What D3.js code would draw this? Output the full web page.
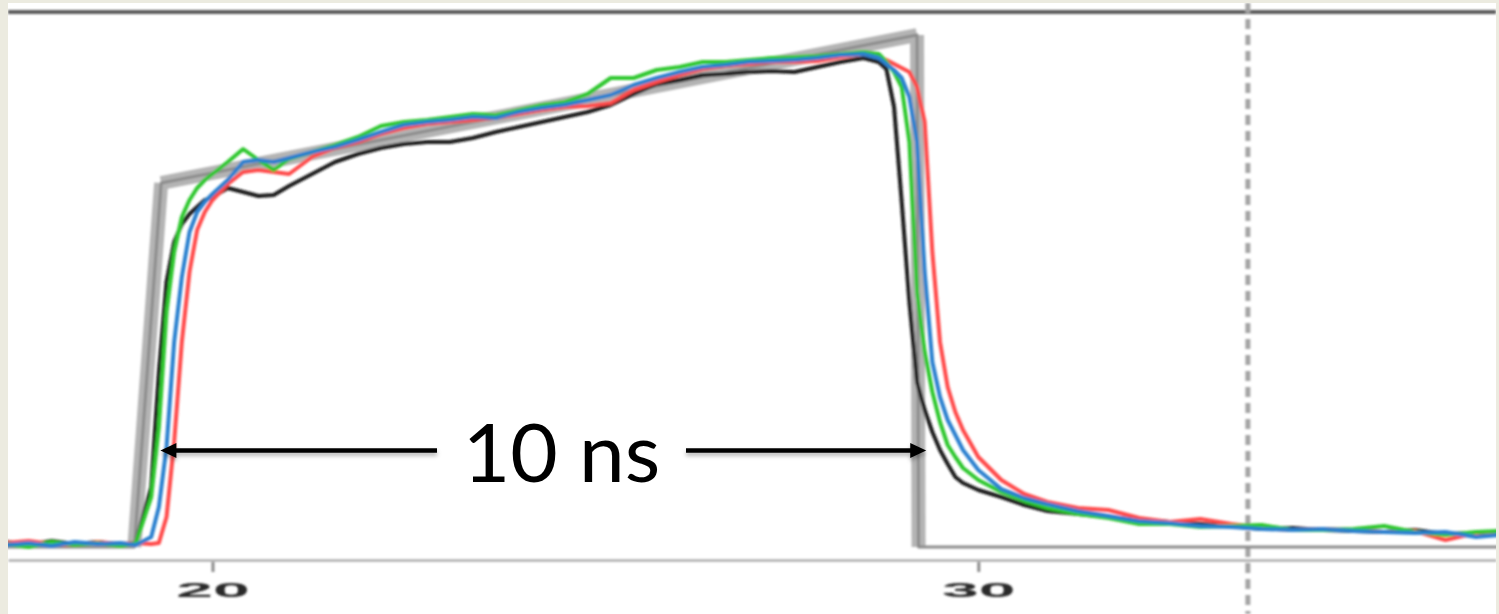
<!DOCTYPE html>
<html>
<head>
<meta charset="utf-8">
<script src="https://cdn.jsdelivr.net/npm/d3@7"></script>
<style>
  html, body { margin: 0; padding: 0; background: #ecebe0; overflow: hidden; }
  svg { display: block; }
</style>
</head>
<body>
<svg id="chart" width="1499" height="614"></svg>
<script>
// ---- sample times (ns), shared by the four measured traces ----
const timeNs = [
  17.3, 17.6, 17.9, 18.2, 18.5, 18.8, 19.0, 19.2,
  19.3, 19.4, 19.5, 19.6, 19.7, 19.8, 19.9, 20.0, 20.2, 20.4, 20.6, 20.8,
  21.0, 21.3, 21.6, 21.9, 22.2, 22.5, 22.8, 23.1, 23.4, 23.7, 24.0, 24.3, 24.6,
  24.9, 25.2, 25.5, 25.8, 26.1, 26.4, 26.7, 27.0, 27.3, 27.6, 27.9, 28.2, 28.5,
  28.7, 28.8, 28.9, 29.0, 29.1, 29.2, 29.3, 29.4, 29.5, 29.6, 29.7, 29.8,
  30.0, 30.3, 30.6, 30.9,
  31.3, 31.7, 32.1, 32.5, 32.9, 33.3, 33.7, 34.1, 34.5, 34.9, 35.3, 35.7,
  36.1, 36.5, 36.8
];

// ---- measured amplitudes (mV) ----
const blackMv = [
  5, 2, 6, 3, 5, 2, 4, 60,
  175, 265, 305, 323, 333, 340, 347, 350, 359, 355, 351, 352,
  361, 373, 385, 393, 399, 403, 405, 405, 409, 415, 420, 425, 430,
  435, 442, 453, 463, 467, 472, 473, 475, 476, 475, 480, 485, 489,
  485, 478, 440, 345, 245, 165, 137, 115, 97, 83, 70, 64,
  57, 50, 42, 36,
  33, 30, 27, 25, 23, 21, 18, 19, 17, 16, 15, 17, 13, 14, 15
];
const greenMv = [
  3, 0, 5, 2, 4, 1, 4, 50,
  120, 235, 295, 330, 347, 359, 367, 373, 385, 398, 387, 377,
  388, 395, 402, 410, 421, 425, 427, 430, 433, 432, 437, 442, 445,
  453, 469, 469, 477, 480, 485, 485, 487, 489, 490, 491, 493, 495,
  493, 485, 475, 460, 405, 255, 195, 155, 125, 102, 90, 79,
  67, 55, 46, 39,
  33, 29, 23, 23, 20, 21, 22, 17, 17, 18, 21, 15, 12, 15, 16
];
const blueMv = [
  2, 4, 1, 5, 3, 4, 2, 10,
  40, 100, 205, 270, 315, 335, 345, 353, 367, 385, 387, 385,
  389, 395, 400, 407, 415, 422, 425, 427, 430, 429, 435, 439, 442,
  447, 452, 462, 469, 475, 480, 482, 485, 486, 487, 489, 492, 493,
  489, 483, 477, 469, 450, 405, 275, 185, 150, 127, 112, 97,
  77, 58, 49, 43,
  36, 31, 26, 24, 21, 20, 18, 17, 18, 16, 15, 14, 15, 10, 12
];
const redMv = [
  4, 6, 3, 2, 5, 3, 4, 3,
  4, 30, 105, 205, 275, 317, 335, 347, 363, 375, 377, 375,
  373, 390, 399, 405, 413, 419, 423, 425, 427, 429, 433, 437, 440,
  441, 444, 457, 465, 472, 478, 481, 483, 485, 485, 486, 490, 493,
  490, 487, 483, 479, 475, 460, 425, 295, 205, 160, 135, 117,
  90, 67, 53, 45,
  39, 37, 29, 25, 28, 23, 19, 17, 18, 17, 15, 16, 7, 14, 15
];

// ---- ideal drive pulse ----
const idealTimeNs = [17.3, 18.98, 19.33, 29.2, 29.22, 36.8];
const idealMv     = [0,    0,     364,   512,  0,     0];

// ---- axis, cursor and annotation ----
const tickValues = [20, 30];
const cursorNs = 33.52;
const pulseStartNs = 19.32;
const pulseWidthNs = 10;
const pulseLabel = "10 ns";

// ---- layout ----
const W = 1499, H = 614;
const panel = { left: 8, top: 3, right: 1496, bottom: 614 };
const axisY = 560;

const x = d3.scaleLinear().domain([17.33, 36.76]).range([panel.left, panel.right]);
const y = d3.scaleLinear().domain([0, 512]).range([547, 35]);

const svg = d3.select("#chart");
const defs = svg.append("defs");

defs.append("clipPath").attr("id", "plotClip")
  .append("rect")
  .attr("x", panel.left).attr("y", panel.top)
  .attr("width", panel.right - panel.left)
  .attr("height", panel.bottom - panel.top);

defs.append("filter").attr("id", "soft")
  .attr("x", "-5%").attr("y", "-5%").attr("width", "110%").attr("height", "110%")
  .append("feGaussianBlur").attr("stdDeviation", 1.3);

defs.append("filter").attr("id", "shadow")
  .attr("x", "-5%").attr("y", "-50%").attr("width", "110%").attr("height", "200%")
  .append("feDropShadow")
  .attr("dx", 0).attr("dy", 3).attr("stdDeviation", 2)
  .attr("flood-color", "#000").attr("flood-opacity", 0.3);

// page background and white plot panel
svg.append("rect").attr("width", W).attr("height", H).attr("fill", "#ecebe0");
svg.append("rect")
  .attr("x", panel.left).attr("y", panel.top)
  .attr("width", panel.right - panel.left)
  .attr("height", panel.bottom - panel.top)
  .attr("fill", "#ffffff");

const plot = svg.append("g")
  .attr("clip-path", "url(#plotClip)")
  .append("g")
  .attr("filter", "url(#soft)");

// top frame rule
plot.append("line")
  .attr("x1", panel.left).attr("x2", panel.right)
  .attr("y1", 12).attr("y2", 12)
  .attr("stroke", "#5c5c5c").attr("stroke-width", 4);

// dotted time cursor
plot.append("line")
  .attr("x1", x(cursorNs)).attr("x2", x(cursorNs))
  .attr("y1", panel.top).attr("y2", panel.bottom)
  .attr("stroke", "#a4a4a4").attr("stroke-width", 5)
  .attr("stroke-dasharray", "10,6");

// bottom axis
const axis = d3.axisBottom(x)
  .tickValues(tickValues)
  .tickSize(12)
  .tickSizeOuter(0)
  .tickFormat(d3.format("d"));

const axisG = plot.append("g")
  .attr("transform", `translate(0,${axisY})`)
  .call(axis);
axisG.select(".domain").attr("stroke", "#9a9a9a").attr("stroke-width", 2);
axisG.selectAll(".tick line").attr("stroke", "#8a8a8a").attr("stroke-width", 3)
  .attr("y1", 2);
axisG.selectAll(".tick text")
  .attr("y", 23)
  .attr("transform", "scale(3.3,1)")
  .attr("fill", "#2a2a2a")
  .style("font-family", "'Liberation Sans', Arial, sans-serif")
  .style("font-weight", "bold")
  .style("font-size", "20px");

// ideal pulse: wide band on the fast edges, thin outline everywhere
const idealPts = idealTimeNs.map((t, i) => ({ t, v: idealMv[i] }));
const edges = d3.pairs(idealPts).filter(([a, b]) => Math.abs(b.v - a.v) > 100);
plot.selectAll("line.edge")
  .data(edges)
  .join("line")
  .attr("class", "edge")
  .attr("x1", d => x(d[0].t)).attr("y1", d => y(d[0].v))
  .attr("x2", d => x(d[1].t)).attr("y2", d => y(d[1].v))
  .attr("stroke", "#b4b4b4").attr("stroke-width", 14);

const line = d3.line().x(d => x(d.t)).y(d => y(d.v));

plot.append("path")
  .datum(idealPts)
  .attr("d", line)
  .attr("fill", "none")
  .attr("stroke", "#8c8c8c")
  .attr("stroke-width", 3)
  .attr("stroke-linejoin", "round");

// measured traces
const traces = [
  { name: "black", values: blackMv, color: "#1a1a1a" },
  { name: "red",   values: redMv,   color: "#ff4a4a" },
  { name: "green", values: greenMv, color: "#2fc72f" },
  { name: "blue",  values: blueMv,  color: "#2b80cf" }
];

plot.selectAll("path.trace")
  .data(traces)
  .join("path")
  .attr("class", "trace")
  .attr("d", d => line(timeNs.map((t, i) => ({ t, v: d.values[i] }))))
  .attr("fill", "none")
  .attr("stroke", d => d.color)
  .attr("stroke-width", 4)
  .attr("stroke-linejoin", "round")
  .attr("stroke-linecap", "round");

// ---- pulse-width annotation ----
const ann = svg.append("g").attr("filter", "url(#shadow)");
const arrowY = 450.5;
const labelX = 561.5;
const gapHalf = 124.5;
const headLen = 16, headHalf = 7.5;
const xStart = x(pulseStartNs);
const xEnd = x(pulseStartNs + pulseWidthNs);

ann.append("line")
  .attr("x1", xStart + 10).attr("x2", labelX - gapHalf)
  .attr("y1", arrowY).attr("y2", arrowY)
  .attr("stroke", "#000").attr("stroke-width", 4.5);
ann.append("line")
  .attr("x1", labelX + gapHalf).attr("x2", xEnd - 10)
  .attr("y1", arrowY).attr("y2", arrowY)
  .attr("stroke", "#000").attr("stroke-width", 4.5);
ann.append("path")
  .attr("d", `M${xStart},${arrowY}L${xStart + headLen},${arrowY - headHalf}L${xStart + headLen},${arrowY + headHalf}Z`)
  .attr("fill", "#000");
ann.append("path")
  .attr("d", `M${xEnd},${arrowY}L${xEnd - headLen},${arrowY - headHalf}L${xEnd - headLen},${arrowY + headHalf}Z`)
  .attr("fill", "#000");

svg.append("text")
  .attr("x", labelX).attr("y", 482)
  .attr("text-anchor", "middle")
  .attr("fill", "#000")
  .style("font-family", "Lato, 'Open Sans', sans-serif")
  .style("font-size", "82px")
  .text(pulseLabel);
</script>
</body>
</html>
